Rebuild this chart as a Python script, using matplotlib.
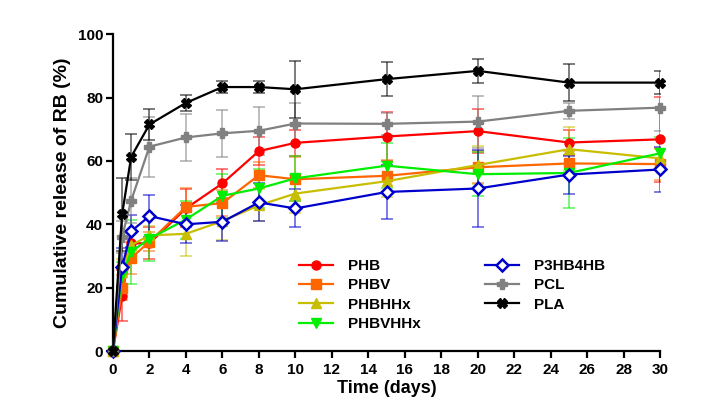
import matplotlib.pyplot as plt
import numpy as np

plt.rcParams['font.family'] = ['Liberation Sans', 'DejaVu Sans']
plt.rcParams['font.weight'] = 'bold'

days = [0, 0.5, 1, 2, 4, 6, 8, 10, 15, 20, 25, 30]

phb = [0, 17.5, 34, 34, 45, 52.9, 63.1, 65.7, 67.7, 69.4, 65.8, 66.8]
phb_err = [0, 8, 4, 5, 6, 4.5, 4.5, 4, 7.6, 6.9, 4, 13.4]
phbv = [0, 20, 29.4, 34.5, 45.5, 46.7, 55.5, 54.2, 55.3, 58.0, 59.2, 59.0]
phbv_err = [0, 4, 5, 3, 6, 4, 4, 7, 5, 5, 4, 5]
phbhhx = [0, 25, 33.4, 36.5, 37, 41, 46, 49.7, 53.6, 58.7, 63.7, 60.8]
phbhhx_err = [0, 4, 4, 3, 7, 6, 5, 6, 5, 6, 7, 3]
phbvhhx = [0, 24, 31.3, 35.5, 41.5, 49, 51.3, 54.5, 58.5, 55.8, 56.2, 62.4]
phbvhhx_err = [0, 4, 10, 7, 6, 7, 6, 7, 7, 7, 11, 5]
p3hb4hb = [0, 26.5, 37.8, 42.6, 40, 40.8, 46.9, 45, 50.2, 51.3, 55.7, 57.3]
p3hb4hb_err = [0, 6, 5, 6.5, 6, 6, 6, 6, 8.5, 12, 6, 7]
pcl = [0, 36, 47.5, 64.5, 67.4, 68.7, 69.5, 71.8, 71.7, 72.4, 75.8, 76.8]
pcl_err = [0, 5, 7, 9.5, 7.5, 7.5, 7.5, 6.5, 3.5, 8.2, 2.5, 7.4]
pla = [0, 43.1, 61.3, 71.5, 78.3, 83.3, 83.3, 82.6, 85.8, 88.4, 84.7, 84.7]
pla_err = [0, 11.4, 7.2, 4.8, 2.5, 2, 2, 9, 5.3, 3.8, 5.9, 3.7]

series = [
    ("PHB", phb, phb_err, "#FF0000", "o", "#FF0000"),
    ("PHBV", phbv, phbv_err, "#FF6600", "s", "#FF6600"),
    ("PHBHHx", phbhhx, phbhhx_err, "#C8BE00", "^", "#C8BE00"),
    ("PHBVHHx", phbvhhx, phbvhhx_err, "#00EE00", "v", "#00EE00"),
    ("P3HB4HB", p3hb4hb, p3hb4hb_err, "#0000CC", "D", "white"),
    ("PCL", pcl, pcl_err, "#808080", "P", "#808080"),
    ("PLA", pla, pla_err, "#000000", "X", "#000000"),
]

fig = plt.figure(figsize=(7.24, 4.16), dpi=100)
ax = fig.add_axes([0.156, 0.156, 0.756, 0.762])

handles = []
for name, y, e, c, m, fc in series:
    ax.errorbar(days, y, yerr=e, fmt='none', ecolor=c, alpha=0.6,
                elinewidth=1.2, capsize=4, capthick=1.2)
    ln, = ax.plot(days, y, color=c, lw=1.6, marker=m, ms=6.5 if m != "D" else 6,
                  mfc=fc, mec=c, mew=1.8 if m == "D" else 1, label=name,
                  clip_on=False, zorder=3)
    handles.append(ln)

ax.set_xlim(0, 30)
ax.set_ylim(0, 100)
ax.set_xticks(np.arange(0, 31, 2))
ax.set_yticks(np.arange(0, 101, 20))
ax.spines['top'].set_visible(False)
ax.spines['right'].set_visible(False)
ax.spines['left'].set_linewidth(1.6)
ax.spines['bottom'].set_linewidth(1.6)
ax.tick_params(width=1.6, length=5, labelsize=11)
ax.tick_params(axis='y', pad=2)
for lab in ax.get_xticklabels() + ax.get_yticklabels():
    lab.set_fontweight('bold')
ax.set_xlabel("Time (days)", fontsize=13, fontweight='bold', labelpad=2)
ax.set_ylabel("Cumulative release of RB (%)", fontsize=14, fontweight='bold', labelpad=5)

leg = ax.legend(handles=handles, ncol=2, frameon=False,
                loc='lower left', bbox_to_anchor=(0.315, 0.02),
                prop={'weight': 'bold', 'size': 11}, handlelength=2.2,
                handletextpad=1.0, columnspacing=4.2, labelspacing=0.35)

fig.savefig("out.png", dpi=100)
